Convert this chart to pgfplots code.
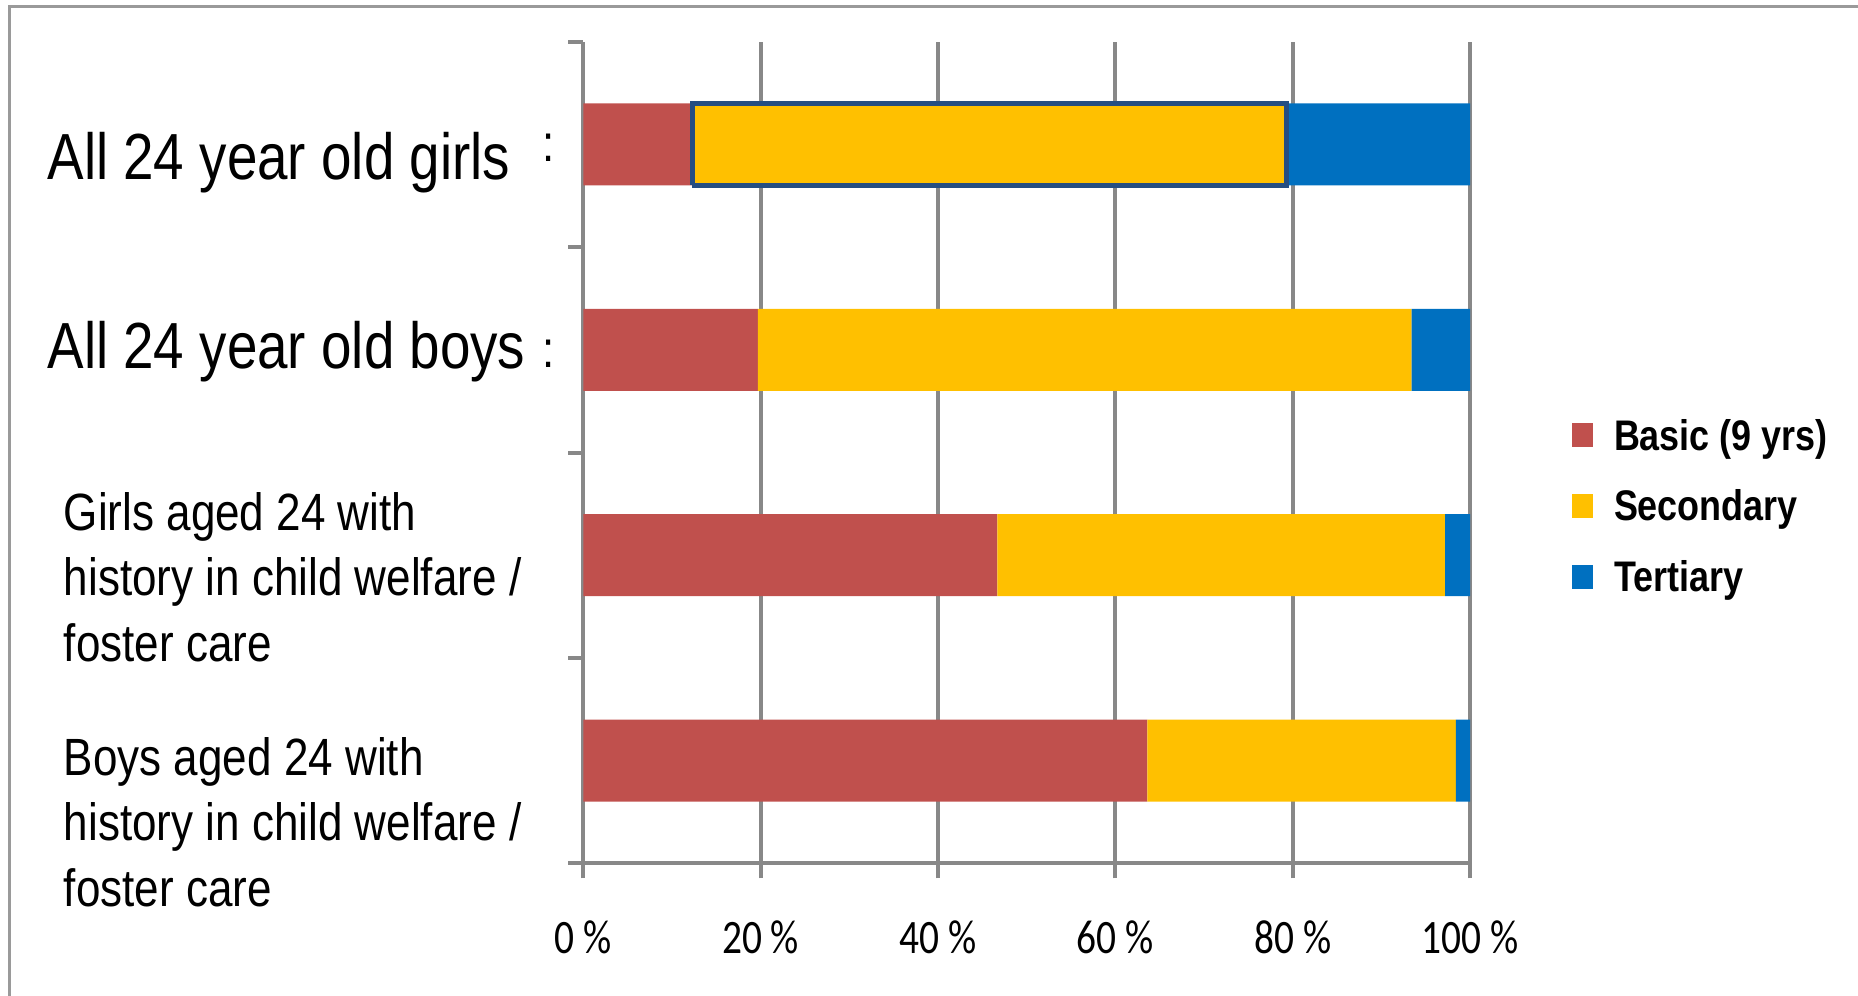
\documentclass[border=0pt]{standalone}
\usepackage{fontspec}
\setmainfont{Liberation Sans}[FakeStretch=0.84]
\newfontfamily\tickfont{Carlito}[FakeStretch=0.82]
\usepackage{pgfplots}
\pgfplotsset{compat=1.18}

\definecolor{basic}{HTML}{C0504D}
\definecolor{secondary}{HTML}{FFC000}
\definecolor{tertiary}{HTML}{0070C0}
\definecolor{outline}{HTML}{254E82}
\definecolor{gridgray}{HTML}{888888}
\definecolor{bordergray}{HTML}{9A9A9A}

\begin{document}
\begin{tikzpicture}
\begin{axis}[
  at={(145.825pt,-215.825pt)}, anchor=south west,
  scale only axis, width=221.675pt, height=205.4pt,
  xbar stacked, bar width=20.5pt, reverse stacked plots=false,
  xmin=0, xmax=100, ymin=-0.5, ymax=3.5,
  axis lines=left,
  axis line style={-, draw=gridgray, line width=1pt},
  xtick={0,20,40,60,80,100},
  xticklabels={0 \%,20 \%,40 \%,60 \%,80 \%,100 \%},
  xticklabel style={font=\tickfont\fontsize{12}{14}\selectfont, anchor=base, yshift=-18.9pt},
  ytick={-0.5,0.5,1.5,2.5,3.5}, yticklabels={},
  xmajorgrids, grid style={draw=gridgray, line width=1pt},
  tick align=outside, major tick length=3.75pt,
  tick style={draw=gridgray, line width=1pt},
  legend cell align=left,
  legend image code/.code={\fill[#1] (0pt,1.85pt) rectangle (5.25pt,7.85pt);},
  legend style={draw=none, fill=none, inner sep=0pt, outer sep=0pt,
    at={(1.115,0.5404)}, anchor=north west, row sep=0pt,
    font=\bfseries\fontsize{10.7}{12}\selectfont,
    nodes={inner sep=0pt, text height=7.7pt, text depth=10pt},
    /tikz/every odd column/.append style={column sep=5.25pt}},
]
% rows from bottom: boys CW, girls CW, all boys, all girls
\addplot[draw=none, fill=basic] coordinates {(63.6,0) (46.7,1) (19.7,2) (12.3,3)};
\addplot[draw=none, fill=secondary] coordinates {(34.8,0) (50.5,1) (73.7,2) (67.0,3)};
\addplot[draw=none, fill=tertiary] coordinates {(1.6,0) (2.8,1) (6.6,2) (20.7,3)};
\legend{Basic (9 yrs), Secondary, Tertiary}
% outline round the secondary bar of the top row
\addplot[stack plots=false, sharp plot, draw=outline, line width=1.1pt, fill=none,
  line join=miter, forget plot]
  coordinates {(12.3,2.8) (79.3,2.8) (79.3,3.2) (12.3,3.2) (12.3,2.8)};
\end{axis}

\begin{scope}[x=0.25pt, y=-0.25pt, every node/.style={inner sep=0pt, anchor=base west}]
\draw[bordergray, line width=0.75pt] (9,1000) -- (9,7) -- (1870,7);
\node[font=\fontsize{16.3}{19}\selectfont] at (46.7,180) {All 24 year old girls};
\node[font=\fontsize{16.3}{19}\selectfont] at (46.7,368.3) {All 24 year old boys};
\node[font=\fontsize{13}{15}\selectfont] at (542,162) {:};
\node[font=\fontsize{13}{15}\selectfont] at (542,367) {:};
\begin{scope}[font=\fontsize{13.1}{16}\selectfont]
\node at (63.1,530) {Girls aged 24 with};
\node at (63.1,595) {history in child welfare /};
\node at (63.1,661.7) {foster care};
\node at (63.1,775) {Boys aged 24 with};
\node at (63.1,840) {history in child welfare /};
\node at (63.1,906.7) {foster care};
\end{scope}
\pgfresetboundingbox
\useasboundingbox (0,0) rectangle (1858,995);
\end{scope}
\end{tikzpicture}
\end{document}
